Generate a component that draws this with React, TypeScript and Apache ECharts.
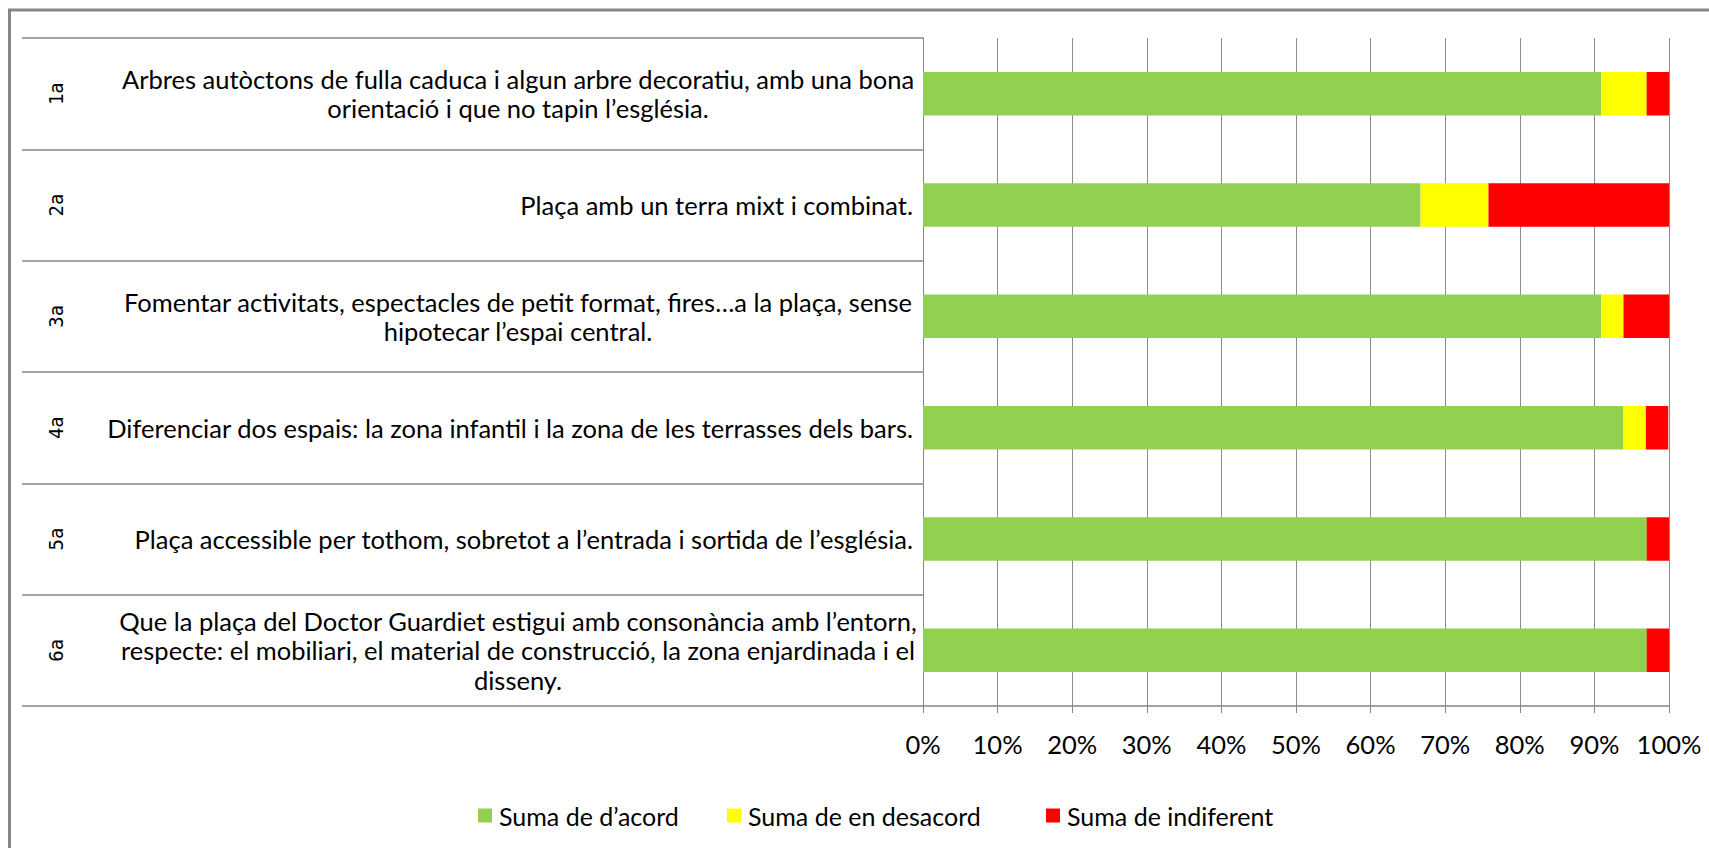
import React, { useEffect, useRef } from "react";
import * as echarts from "echarts";

const codes = ["1a", "2a", "3a", "4a", "5a", "6a"];
const statements: string[][] = [
  ["Arbres autòctons de fulla caduca i algun arbre decoratiu, amb una bona", "orientació i que no tapin l’església."],
  ["Plaça amb un terra mixt i combinat."],
  ["Fomentar activitats, espectacles de petit format, fires…a la plaça, sense", "hipotecar l’espai central."],
  ["Diferenciar dos espais: la zona infantil i la zona de les terrasses dels bars."],
  ["Plaça accessible per tothom, sobretot a l’entrada i sortida de l’església."],
  [
    "Que la plaça del Doctor Guardiet estigui amb consonància amb l’entorn,",
    "respecte: el mobiliari, el material de construcció, la zona enjardinada i el",
    "disseny.",
  ],
];
const seriesNames = ["Suma de d’acord", "Suma de en desacord", "Suma de indiferent"];
const agree = [90.9, 66.7, 90.9, 93.9, 97.0, 97.0];
const disagree = [6.1, 9.1, 3.0, 3.0, 0, 0];
const indifferent = [3.0, 24.2, 6.1, 3.0, 3.0, 3.0];
const seriesColors = ["#92D050", "#FFFF00", "#FF0000"];

const FONT = 'Lato, "Open Sans", sans-serif';
const GRAY = "#868686";
const TXT = 25.5;

export default function App() {
  const ref = useRef<HTMLDivElement>(null);
  useEffect(() => {
    document.body.style.margin = "0";
    if (!ref.current) return;
    const chart = echarts.init(ref.current, undefined, { renderer: "svg" });
    const values = [agree, disagree, indifferent];
    const legendLefts = [478, 727, 1046];
    chart.setOption({
      animation: false,
      backgroundColor: "#fff",
      textStyle: { fontFamily: FONT },
      grid: { left: 923, right: 40, top: 38, bottom: 142, containLabel: false, outerBoundsMode: "none" },
      graphic: [
        {
          type: "rect",
          silent: true,
          shape: { x: 9.5, y: 10, width: 2000, height: 1000 },
          style: { fill: "none", stroke: GRAY, lineWidth: 3 },
          z: -10,
        },
      ],
      legend: seriesNames.map((n, i) => ({
        data: [n],
        left: legendLefts[i],
        top: 803,
        padding: 0,
        icon: "rect",
        itemWidth: 14,
        itemHeight: 14,
        itemGap: 0,
        selectedMode: false,
        textStyle: { fontSize: 25, fontFamily: FONT, color: "#000", padding: [0, 0, 0, 2] },
      })),
      xAxis: {
        type: "value",
        min: 0,
        max: 100,
        interval: 10,
        axisLine: { show: true, lineStyle: { color: GRAY, width: 1.5 } },
        axisTick: { show: true, length: 7, lineStyle: { color: GRAY } },
        splitLine: { show: true, lineStyle: { color: "#8c8c8c", width: 1 } },
        axisLabel: { formatter: "{value}%", fontSize: 25.5, fontFamily: FONT, color: "#000", margin: 25 },
      },
      yAxis: [
        {
          type: "category",
          position: "left",
          inverse: true,
          data: codes,
          axisLine: { show: true, lineStyle: { color: GRAY, width: 1 } },
          axisTick: { show: true, interval: 0, length: 901, lineStyle: { color: GRAY, width: 1.5 } },
          axisLabel: {
            interval: 0,
            margin: 10,
            color: "#000",
            formatter: (_v: string, idx: number) => {
              const lines = statements[idx];
              if (lines.length === 1) return `{r|${lines[0]}}`;
              return lines.map((l) => `{c|${l}}`).join("\n");
            },
            rich: {
              r: { align: "right", fontSize: TXT, fontFamily: FONT, color: "#000", lineHeight: 29.5 },
              c: { align: "center", width: 790, fontSize: TXT, fontFamily: FONT, color: "#000", lineHeight: 29.5 },
            },
          },
        },
        {
          type: "category",
          position: "left",
          inverse: true,
          data: codes,
          axisLine: { show: false },
          axisTick: { show: false },
          splitLine: { show: false },
          axisLabel: {
            interval: 0,
            rotate: 90,
            margin: 858,
            fontSize: 19,
            fontFamily: '"DejaVu Sans Mono", monospace',
            color: "#000",
          },
        },
      ],
      series: seriesNames.map((n, i) => ({
        name: n,
        type: "bar",
        stack: "total",
        yAxisIndex: 0,
        barCategoryGap: "61%",
        itemStyle: { color: seriesColors[i] },
        data: values[i],
      })),
    });
    return () => chart.dispose();
  }, []);
  return <div ref={ref} style={{ width: 1709, height: 848 }} />;
}
